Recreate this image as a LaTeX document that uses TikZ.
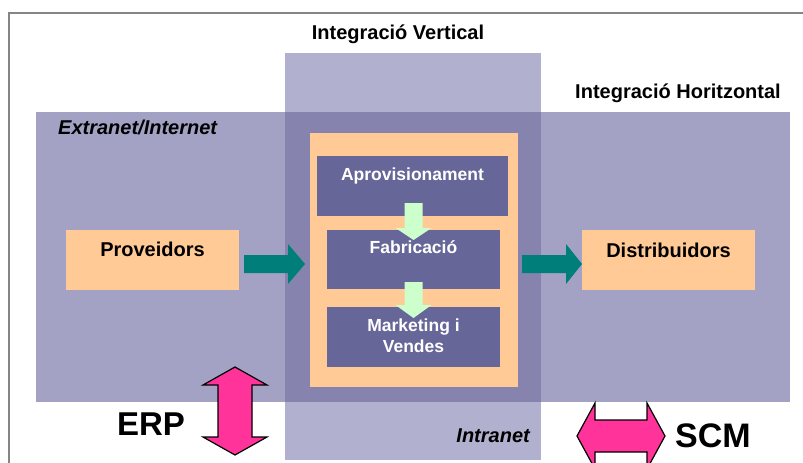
\documentclass[tikz,border=0pt]{standalone}
\usepackage{fontspec}
\setmainfont{Liberation Sans}
\usetikzlibrary{calc}

\definecolor{bandH}{HTML}{A3A2C4}
\definecolor{bandV}{HTML}{B1B0CE}
\definecolor{bandX}{HTML}{8684AE}
\definecolor{coreOr}{HTML}{FFCA96}
\definecolor{procBl}{HTML}{666699}
\definecolor{flowGr}{HTML}{CCFFCC}
\definecolor{linkTl}{HTML}{007F7A}
\definecolor{toolPk}{HTML}{FF3399}
\definecolor{frameGr}{HTML}{858585}

\begin{document}
\begin{tikzpicture}[x=1pt, y=-1pt,
  area/.style={draw=none, inner sep=0pt, outer sep=0pt, anchor=north west},
  headtxt/.style={inner sep=0pt, anchor=base, font=\fontsize{20}{24}\selectfont\bfseries, text=black},
  proctxt/.style={inner sep=0pt, anchor=base, align=center, font=\fontsize{17.5}{21}\selectfont\bfseries, text=white},
  bigtxt/.style={inner sep=0pt, anchor=base, font=\fontsize{34}{40}\selectfont\bfseries, text=black},
  tealarrow/.style={fill=linkTl, draw=none},
  greenarrow/.style={fill=flowGr, draw=none},
  toolarrow/.style={fill=toolPk, draw=black, line width=1.2pt, line join=miter}
]
\clip (0,0) rectangle (803,463);
\fill[white] (0,0) rectangle (803,463);

% page frame (top and left edges)
\draw[frameGr, line width=2pt] (9,470) -- (9,13) -- (810,13);

% integration bands
\node[area, fill=bandH, minimum width=754, minimum height=290] (hband) at (36,112) {};
\node[area, fill=bandV, minimum width=256, minimum height=407] (vband) at (285,53) {};
\node[area, fill=bandX, minimum width=256, minimum height=290] (xband) at (285,112) {};

% company core and its processes
\node[area, fill=coreOr, minimum width=208, minimum height=254] (core) at (310,133) {};
\node[area, fill=procBl, minimum width=191, minimum height=60] (aprov) at (317,156) {};
\node[area, fill=procBl, minimum width=173, minimum height=59] (fabr) at (327,230) {};
\node[area, fill=procBl, minimum width=173, minimum height=60] (mkt) at (327,307) {};

% partners
\node[area, fill=coreOr, minimum width=173, minimum height=60] (prov) at (66,230) {};
\node[area, fill=coreOr, minimum width=173, minimum height=60] (dist) at (582,230) {};

% internal flow arrows
\fill[greenarrow] let \p1=($(aprov.south)+(1,-13)$), \p2=($(fabr.north)+(0,10)$) in
  (\x1-9pt,\y1) -- (\x1-9pt,\y2+12pt) -- (\x1-18pt,\y2+12pt) -- (\x1,\y2)
  -- (\x1+18pt,\y2+12pt) -- (\x1+9pt,\y2+12pt) -- (\x1+9pt,\y1) -- cycle;
\fill[greenarrow] let \p1=($(fabr.south)+(0,-7)$), \p2=($(mkt.north)+(0,11)$) in
  (\x1-9pt,\y1) -- (\x1-9pt,\y2+13pt) -- (\x1-18pt,\y2+13pt) -- (\x1,\y2)
  -- (\x1+18pt,\y2+13pt) -- (\x1+9pt,\y2+13pt) -- (\x1+9pt,\y1) -- cycle;

% partner links
\fill[tealarrow] let \p1=($(prov.east)+(5,4)$), \p2=($(core.west)+(-5,0)$) in
  (\x1,\y1+9pt) -- (\x2-17pt,\y1+9pt) -- (\x2-17pt,\y1+20pt) -- (\x2,\y1)
  -- (\x2-17pt,\y1-20pt) -- (\x2-17pt,\y1-9pt) -- (\x1,\y1-9pt) -- cycle;
\fill[tealarrow] let \p1=($(core.east)+(4,4)$), \p2=(dist.west) in
  (\x1,\y1+9pt) -- (\x2-16pt,\y1+9pt) -- (\x2-16pt,\y1+20pt) -- (\x2,\y1+0pt)
  -- (\x2-16pt,\y1-20pt) -- (\x2-16pt,\y1-9pt) -- (\x1,\y1-9pt) -- cycle;

% texts
\node[headtxt] (tvert) at (398,39) {Integració Vertical};
\node[headtxt] (thor) at (678,98) {Integració Horitzontal};
\node[headtxt, anchor=base west, font=\fontsize{20}{24}\selectfont\bfseries\itshape] (text) at (58,134) {Extranet/Internet};
\node[headtxt, anchor=base east, font=\fontsize{20}{24}\selectfont\bfseries\itshape] (tint) at (530,442) {Intranet};
\node[headtxt] (tprov) at ($(prov.north)+(0,26)$) {Proveidors};
\node[headtxt] (tdist) at ($(dist.north)+(0,27)$) {Distribuidors};
\node[proctxt] (taprov) at ($(aprov.north)+(0,24)$) {Aprovisionament};
\node[proctxt] (tfabr) at ($(fabr.north)+(0,23)$) {Fabricació};
\node[proctxt, anchor=north] (tmkt) at ($(mkt.north)+(0,12)$) {Marketing i\\Vendes};

% ERP: vertical two-way arrow
\coordinate (erpT) at (235,367);
\coordinate (erpB) at (235,455);
\filldraw[toolarrow] let \p1=(erpT), \p2=(erpB) in
  (\x1,\y1) -- (\x1+32pt,\y1-18pt) -- (\x1+17pt,\y1-18pt) -- (\x1+17pt,\y2+18pt)
  -- (\x1+32pt,\y2+18pt) -- (\x2,\y2) -- (\x1-32pt,\y2+18pt) -- (\x1-17pt,\y2+18pt)
  -- (\x1-17pt,\y1-18pt) -- (\x1-32pt,\y1-18pt) -- cycle;
\node[bigtxt, font=\fontsize{33}{40}\selectfont\bfseries] (terp) at (151,435) {ERP};

% SCM: horizontal two-way arrow
\coordinate (scmL) at (577,436);
\coordinate (scmR) at (665,436);
\filldraw[toolarrow] let \p1=(scmL), \p2=(scmR) in
  (\x1,\y1) -- (\x1+18pt,\y1+33pt) -- (\x1+18pt,\y1+16pt) -- (\x2-18pt,\y1+16pt)
  -- (\x2-18pt,\y1+33pt) -- (\x2,\y2) -- (\x2-18pt,\y1-33pt) -- (\x2-18pt,\y1-16pt)
  -- (\x1+18pt,\y1-16pt) -- (\x1+18pt,\y1-33pt) -- cycle;
\node[bigtxt] (tscm) at (713,447) {SCM};
\end{tikzpicture}
\end{document}
